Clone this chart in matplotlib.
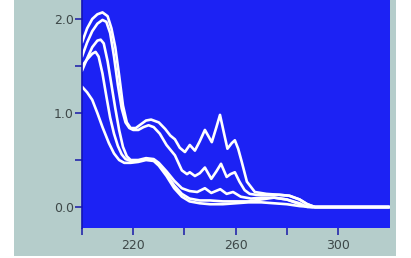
import matplotlib
matplotlib.use("Agg")
import matplotlib.pyplot as plt
from matplotlib.patches import Rectangle

# ---- data (wavelength nm, absorbance) ----
wl_a = [200, 202, 204, 206, 208, 210, 211.5, 213, 214.5, 216, 217.5, 219, 221, 223, 225, 227, 230,
        232.5, 234.5, 236.3, 238.2, 240.2, 242.1, 244.1, 246, 248, 250.7, 252.5, 253.9, 255.5, 256.8,
        258.5, 259.7, 261, 262.4, 264.4, 267.5, 272, 277, 281, 285, 288, 291, 320]
ab_a = [1.75, 1.9, 2.0, 2.05, 2.07, 2.03, 1.9, 1.7, 1.4, 1.08, 0.9, 0.84, 0.84, 0.88, 0.92, 0.93, 0.9,
        0.83, 0.76, 0.72, 0.63, 0.585, 0.66, 0.60, 0.70, 0.82, 0.69, 0.85, 0.98, 0.78, 0.62,
        0.68, 0.71, 0.62, 0.48, 0.27, 0.16, 0.14, 0.13, 0.12, 0.08, 0.03, 0.0, 0.0]

wl_b = [200, 202, 204, 206, 208, 209.5, 211, 212.5, 214, 215.5, 217, 218.5, 220, 222, 224, 226, 228,
        230.4, 233, 236.3, 239, 241, 242.1, 244.1, 246, 248, 250.5, 252.5, 254.3, 256.5, 258, 259.7,
        261.5, 263.5, 265.5, 268, 272, 277, 281, 285, 288, 291, 320]
ab_b = [1.6, 1.75, 1.87, 1.95, 1.99, 1.97, 1.85, 1.6, 1.3, 1.05, 0.9, 0.84, 0.82, 0.82, 0.85, 0.87, 0.85,
        0.78, 0.66, 0.55, 0.39, 0.35, 0.37, 0.33, 0.36, 0.42, 0.30, 0.38, 0.46, 0.32, 0.35, 0.37,
        0.27, 0.18, 0.14, 0.13, 0.13, 0.13, 0.12, 0.08, 0.03, 0.0, 0.0]

wl_c = [200, 202, 204, 206, 207.3, 208.5, 210, 211.5, 213, 214.5, 216, 217.5, 219, 222, 225, 228,
        230, 233, 236, 239, 242, 245, 248, 250.5, 254, 256.5, 259, 262, 266, 270, 275, 280, 285, 288, 320]
ab_c = [1.45, 1.58, 1.7, 1.77, 1.78, 1.74, 1.55, 1.3, 1.05, 0.82, 0.64, 0.54, 0.5, 0.5, 0.52, 0.51,
        0.47, 0.38, 0.28, 0.2, 0.17, 0.16, 0.2, 0.15, 0.19, 0.14, 0.16, 0.11, 0.09, 0.1, 0.1, 0.08, 0.04, 0.0, 0.0]

wl_d = [200, 202, 204, 205.3, 206.5, 208, 209.5, 211, 212.5, 214, 215.5, 217, 219, 222, 225, 228,
        230, 233, 236, 239, 242, 246, 250, 255, 260, 265, 270, 275, 280, 284, 287, 290, 320]
ab_d = [1.5, 1.57, 1.63, 1.65, 1.6, 1.42, 1.18, 0.95, 0.78, 0.65, 0.56, 0.51, 0.49, 0.49, 0.51, 0.5,
        0.45, 0.35, 0.23, 0.14, 0.09, 0.07, 0.07, 0.06, 0.06, 0.06, 0.08, 0.1, 0.08, 0.04, 0.01, 0.0, 0.0]

wl_e = [200, 202, 204, 206, 208, 210.5, 212.5, 214.5, 216.5, 219, 222, 225, 228,
        230, 233, 236, 239, 242, 246, 250, 255, 260, 265, 270, 275, 280, 285, 290, 320]
ab_e = [1.28, 1.22, 1.14, 1.0, 0.85, 0.68, 0.57, 0.5, 0.47, 0.47, 0.48, 0.5, 0.49,
        0.44, 0.33, 0.2, 0.11, 0.06, 0.04, 0.03, 0.03, 0.04, 0.05, 0.05, 0.04, 0.03, 0.01, 0.0, 0.0]

series = [(wl_e, ab_e), (wl_d, ab_d), (wl_c, ab_c), (wl_b, ab_b), (wl_a, ab_a)]

x_ticks = [200, 220, 240, 260, 280, 300]
x_tick_labels = ["", "220", "", "260", "", "300"]
y_ticks = [0.0, 0.5, 1.0, 1.5, 2.0]
y_tick_labels = ["0.0", "", "1.0", "", "2.0"]

# ---- figure ----
W, H = 411, 258
fig = plt.figure(figsize=(W / 100, H / 100), dpi=100, facecolor="white")
bg = Rectangle((14 / W, 1 - 256 / H), (396 - 14) / W, 256 / H,
               transform=fig.transFigure, facecolor="#b5cdcb",
               edgecolor="none", zorder=-10)
fig.add_artist(bg)

ax = fig.add_axes([82 / W, 1 - 228 / H, (390 - 82) / W, 228 / H])
ax.set_zorder(1)
ax.set_facecolor("#1c22f4")
for (x, y) in series:
    ax.plot(x, y, color="white", lw=1.9, solid_joinstyle="round", solid_capstyle="round")

ax.set_xlim(200, 320.3)
ax.set_ylim(-0.223, 2.202)
ax.set_xticks(x_ticks)
ax.set_xticklabels(x_tick_labels)
ax.set_yticks(y_ticks)
ax.set_yticklabels(y_tick_labels)
for s in ax.spines.values():
    s.set_visible(False)
ax.spines["left"].set_visible(True)
ax.spines["left"].set_color("#1414b4")
ax.spines["left"].set_linewidth(1.2)
ax.tick_params(axis="both", direction="out", length=5, width=1.1, color="#1818a8",
               labelcolor="#3e4848", labelsize=9)
ax.tick_params(axis="y", pad=1)
ax.tick_params(axis="x", pad=3)

fig.savefig("out.png", dpi=100, facecolor="white")
